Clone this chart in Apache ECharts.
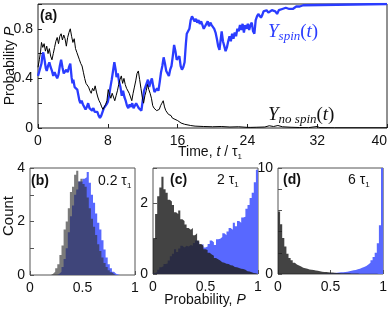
<!DOCTYPE html>
<html><head><meta charset="utf-8">
<script src="https://cdn.jsdelivr.net/npm/echarts@6/dist/echarts.min.js"></script>
<style>html,body{margin:0;padding:0;background:#fff}#c{width:390px;height:311px}</style>
</head><body><div id="c"></div><script>
// ---- panel (a): trajectories [time t/tau1, probability P]
const spinPath = [[0,0.42],[0.2,0.47],[0.4,0.52],[0.5,0.58],[0.6,0.61],[0.75,0.55],[0.9,0.48],[1.0,0.46],[1.15,0.5],[1.3,0.53],[1.45,0.49],[1.6,0.46],[1.75,0.42],[1.9,0.45],[2.05,0.44],[2.2,0.4],[2.35,0.43],[2.5,0.5],[2.65,0.55],[2.8,0.49],[2.95,0.44],[3.1,0.43],[3.25,0.47],[3.4,0.45],[3.55,0.49],[3.7,0.52],[3.85,0.41],[3.95,0.36],[4.05,0.39],[4.2,0.33],[4.35,0.34],[4.5,0.31],[4.6,0.3],[4.75,0.22],[4.85,0.2],[5.0,0.22],[5.15,0.19],[5.3,0.18],[5.45,0.15],[5.6,0.17],[5.75,0.2],[5.9,0.16],[6.05,0.15],[6.2,0.14],[6.35,0.16],[6.5,0.13],[6.65,0.12],[6.8,0.13],[6.95,0.1],[7.1,0.08],[7.25,0.1],[7.4,0.13],[7.55,0.16],[7.7,0.17],[7.85,0.19],[8.0,0.21],[8.15,0.26],[8.3,0.33],[8.45,0.39],[8.6,0.46],[8.75,0.53],[8.9,0.47],[9.0,0.41],[9.15,0.44],[9.3,0.37],[9.45,0.33],[9.6,0.26],[9.75,0.3],[9.9,0.25],[10.05,0.22],[10.2,0.18],[10.35,0.16],[10.5,0.19],[10.65,0.17],[10.8,0.2],[10.95,0.16],[11.1,0.17],[11.25,0.2],[11.4,0.18],[11.55,0.16],[11.7,0.15],[11.85,0.14],[12.0,0.22],[12.15,0.3],[12.3,0.33],[12.45,0.36],[12.6,0.39],[12.75,0.33],[12.9,0.37],[13.05,0.4],[13.2,0.34],[13.35,0.29],[13.5,0.3],[13.65,0.32],[13.8,0.3],[13.95,0.37],[14.1,0.45],[14.25,0.5],[14.4,0.57],[14.55,0.52],[14.7,0.46],[14.85,0.44],[15.0,0.42],[15.15,0.47],[15.3,0.5],[15.45,0.58],[15.6,0.67],[15.75,0.62],[15.9,0.55],[16.05,0.56],[16.2,0.58],[16.35,0.5],[16.5,0.47],[16.65,0.49],[16.8,0.53],[16.95,0.68],[17.05,0.76],[17.2,0.78],[17.35,0.8],[17.5,0.87],[17.65,0.9],[17.8,0.91],[17.95,0.86],[18.1,0.88],[18.25,0.85],[18.4,0.87],[18.55,0.84],[18.7,0.86],[18.85,0.83],[19.0,0.8],[19.15,0.82],[19.3,0.84],[19.45,0.86],[19.6,0.82],[19.75,0.85],[19.9,0.83],[20.05,0.82],[20.2,0.8],[20.35,0.77],[20.5,0.72],[20.65,0.66],[20.8,0.63],[20.95,0.72],[21.05,0.78],[21.2,0.7],[21.35,0.66],[21.5,0.62],[21.65,0.65],[21.8,0.7],[21.95,0.74],[22.1,0.7],[22.25,0.76],[22.4,0.72],[22.55,0.77],[22.7,0.74],[22.85,0.8],[23.0,0.78],[23.15,0.83],[23.3,0.79],[23.45,0.84],[23.6,0.77],[23.75,0.83],[23.9,0.8],[24.05,0.84],[24.2,0.79],[24.35,0.83],[24.5,0.85],[24.65,0.78],[24.8,0.76],[24.95,0.87],[25.1,0.9],[25.25,0.92],[25.4,0.93],[25.55,0.89],[25.7,0.91],[25.85,0.94],[26.0,0.93],[26.2,0.95],[26.4,0.93],[26.6,0.94],[26.8,0.95],[27.0,0.96],[27.2,0.94],[27.4,0.92],[27.6,0.95],[27.8,0.94],[28.0,0.96],[28.2,0.95],[28.4,0.97],[28.6,0.97],[28.8,0.96],[29.0,0.97],[29.2,0.96],[29.4,0.97],[29.6,0.98],[29.8,0.97],[30.0,0.98],[30.2,0.98],[30.4,0.99],[30.6,1.0],[40,1.0]];
const noSpinPath = [[0,0.49],[0.15,0.55],[0.3,0.62],[0.4,0.69],[0.55,0.65],[0.7,0.68],[0.85,0.62],[1.0,0.66],[1.15,0.6],[1.3,0.64],[1.45,0.58],[1.6,0.55],[1.75,0.6],[1.9,0.65],[2.05,0.7],[2.2,0.73],[2.35,0.68],[2.5,0.74],[2.65,0.76],[2.8,0.71],[2.95,0.75],[3.1,0.72],[3.25,0.66],[3.4,0.73],[3.55,0.77],[3.7,0.8],[3.85,0.74],[4.0,0.69],[4.15,0.72],[4.3,0.64],[4.45,0.61],[4.6,0.6],[4.75,0.55],[4.9,0.52],[5.05,0.5],[5.2,0.45],[5.35,0.4],[5.5,0.36],[5.65,0.37],[5.8,0.33],[5.95,0.3],[6.1,0.28],[6.25,0.32],[6.4,0.3],[6.55,0.34],[6.7,0.29],[6.85,0.25],[7.0,0.22],[7.15,0.2],[7.3,0.17],[7.45,0.15],[7.6,0.17],[7.75,0.19],[7.9,0.22],[8.05,0.31],[8.2,0.27],[8.35,0.24],[8.5,0.28],[8.65,0.25],[8.8,0.22],[8.95,0.26],[9.1,0.3],[9.25,0.35],[9.4,0.39],[9.55,0.42],[9.7,0.36],[9.85,0.4],[10.0,0.35],[10.15,0.32],[10.3,0.33],[10.45,0.28],[10.6,0.25],[10.75,0.22],[10.9,0.28],[11.05,0.33],[11.2,0.38],[11.35,0.44],[11.5,0.46],[11.65,0.39],[11.8,0.32],[11.95,0.25],[12.1,0.2],[12.25,0.26],[12.4,0.3],[12.55,0.35],[12.7,0.31],[12.85,0.28],[13.0,0.24],[13.15,0.18],[13.3,0.16],[13.45,0.15],[13.6,0.14],[13.75,0.13],[13.9,0.15],[14.05,0.18],[14.2,0.2],[14.35,0.22],[14.5,0.17],[14.65,0.14],[14.8,0.13],[14.95,0.11],[15.1,0.1],[15.25,0.1],[15.4,0.08],[15.55,0.09],[15.7,0.07],[15.85,0.07],[16.0,0.06],[16.2,0.05],[16.4,0.04],[16.6,0.03],[16.8,0.03],[17.0,0.025],[17.5,0.02],[18.0,0.015],[19.0,0.012],[20.0,0.01],[21.0,0.012],[22.0,0.008],[23.0,0.01],[24.0,0.005],[24.2,0.02],[24.4,0.005],[25,0.006],[26,0.008],[26.5,0.018],[27,0.012],[27.5,0.02],[28,0.01],[29,0.006],[30,0.004],[31,0.003],[32,0.012],[32.3,0.003],[34,0.002],[40,0.002]];
const timeAxis = {min: 0, max: 40, step: 8};
const probTickLabels = {'0': '0', '0.4': '0.4', '0.8': '0.8'};

// ---- histograms: 50 bins over P in [0,1], counts
const histB_spin   = [0,0,0,0,0,0,0,0,0,0,0,0,0,0.05,0.12,0.3,0.6,1.0,1.6,2.2,2.6,3.0,3.2,3.5,3.5,3.6,3.65,3.85,3.45,3.0,2.7,2.3,1.95,1.7,1.3,0.95,0.65,0.4,0.25,0.12,0.05,0.02,0,0,0,0,0,0,0,0];
const histB_noSpin = [0,0,0,0,0,0,0,0,0,0,0.05,0.12,0.25,0.4,0.75,1.1,1.7,2.0,2.5,3.1,3.3,3.75,3.9,3.5,3.6,3.4,3.3,2.9,2.5,2.1,1.8,1.5,1.15,0.9,0.65,0.45,0.3,0.18,0.1,0.04,0,0,0,0,0,0,0,0,0,0];
const histC_spin   = [0.02,0.06,0.12,0.19,0.22,0.28,0.3,0.38,0.5,0.57,0.7,0.62,0.72,0.8,0.75,0.8,0.78,0.82,0.8,0.88,0.95,0.9,0.82,0.85,0.75,0.78,0.85,0.95,0.9,0.82,0.98,1.0,1.05,1.15,1.1,1.2,1.3,1.25,1.45,1.35,1.5,1.45,1.6,1.62,1.85,1.95,2.15,2.3,2.6,2.95];
const histC_noSpin = [1.0,1.7,2.2,2.45,2.75,2.4,2.3,2.1,2.05,1.95,1.75,1.7,1.8,1.55,1.5,1.4,1.3,1.25,1.3,1.1,1.15,0.95,0.85,0.8,0.7,0.68,0.6,0.55,0.52,0.45,0.42,0.38,0.33,0.32,0.29,0.28,0.25,0.24,0.2,0.19,0.17,0.15,0.14,0.12,0.08,0.07,0.05,0.03,0.02,0.01];
const histD_spin   = [0.01,0.01,0.01,0.01,0.01,0.01,0.01,0.01,0.01,0.01,0.01,0.01,0.01,0.01,0.01,0.01,0.01,0.01,0.01,0.01,0.02,0.03,0.04,0.05,0.06,0.08,0.1,0.12,0.14,0.16,0.17,0.2,0.22,0.25,0.3,0.35,0.38,0.45,0.5,0.6,0.65,0.75,0.9,1.05,1.3,1.6,2.0,2.9,4.6,10];
const histD_noSpin = [5.9,4.7,3.4,2.6,1.9,1.5,1.3,1.05,0.9,0.8,0.7,0.6,0.55,0.5,0.42,0.4,0.38,0.32,0.3,0.25,0.22,0.2,0.2,0.17,0.15,0.13,0.12,0.1,0.1,0.08,0.08,0.07,0.06,0.06,0.05,0.05,0.04,0.04,0.03,0.03,0.03,0.03,0.02,0.02,0.02,0.02,0.02,0.01,0.01,0.01];
const countAxes = [{max: 4, step: 1, labels: ['0','2','4']}, {max: 3, step: 1, labels: ['0','2']}, {max: 10, step: 2, labels: ['0','10']}];
const probLabels = {'0': '0', '0.5': '0.5', '1': '1'};

function stepData(vals) {
  const w = 1 / vals.length;
  const d = vals.map((v, i) => [i * w, v]);
  d.push([1, vals[vals.length - 1]]);
  return d;
}

const FONT = 'Liberation Sans, Arial, sans-serif';
const SERIF = 'Liberation Serif, Times New Roman, serif';
const chart = echarts.init(document.getElementById('c'), null, {renderer: 'canvas'});

const grids = [
  {left: 38, top: 4, width: 349, height: 124, show: true, borderColor: '#222', borderWidth: 1},
  {left: 30, top: 168, width: 105, height: 107, show: true, borderColor: '#555', borderWidth: 1},
  {left: 153, top: 168, width: 105, height: 106, show: true, borderColor: '#555', borderWidth: 1},
  {left: 278, top: 168, width: 108, height: 106, show: true, borderColor: '#555', borderWidth: 1}
];
const labelStyle = {fontFamily: FONT, fontSize: 14, color: '#111'};
function tickCfg(c){ return {show: true, inside: true, length: 4, lineStyle: {color: c}}; }

const xAxes = [
  {gridIndex: 0, type: 'value', min: timeAxis.min, max: timeAxis.max, interval: timeAxis.step,
   axisLine: {show: false}, axisTick: tickCfg('#222'), splitLine: {show: false},
   axisLabel: Object.assign({margin: 6, alignMaxLabel: 'right'}, labelStyle)}
];
const yAxes = [
  {gridIndex: 0, type: 'value', min: 0, max: 1, interval: 0.2,
   axisLine: {show: false}, axisTick: tickCfg('#222'), splitLine: {show: false},
   axisLabel: Object.assign({margin: 5, formatter: v => probTickLabels[String(+v.toFixed(2))] || ''}, labelStyle)}
];
for (let k = 1; k <= 3; k++) {
  const ca = countAxes[k - 1];
  xAxes.push({gridIndex: k, type: 'value', min: 0, max: 1, interval: 0.5,
    axisLine: {show: false}, axisTick: tickCfg('#555'), splitLine: {show: false},
    axisLabel: Object.assign({margin: 6, formatter: v => probLabels[String(+v.toFixed(2))] || ''}, labelStyle)});
  yAxes.push({gridIndex: k, type: 'value', min: 0, max: ca.max, interval: ca.step,
    axisLine: {show: false}, axisTick: tickCfg('#555'), splitLine: {show: false},
    axisLabel: Object.assign({margin: 5, formatter: v => ca.labels.indexOf(String(v)) >= 0 ? String(v) : ''}, labelStyle)});
}

const series = [
  {type: 'line', xAxisIndex: 0, yAxisIndex: 0, data: spinPath, showSymbol: false, symbol: 'none',
   lineStyle: {color: '#2a3cff', width: 2.3}, z: 2},
  {type: 'line', xAxisIndex: 0, yAxisIndex: 0, data: noSpinPath, showSymbol: false, symbol: 'none',
   lineStyle: {color: '#000', width: 1}, z: 3}
];
const hists = [[histB_spin, histB_noSpin, '#333', 0.65], [histC_spin, histC_noSpin, '#222', 0.85], [histD_spin, histD_noSpin, '#222', 0.85]];
hists.forEach((h, i) => {
  const k = i + 1;
  series.push({type: 'line', xAxisIndex: k, yAxisIndex: k, step: 'end', data: stepData(h[0]),
    showSymbol: false, symbol: 'none', lineStyle: {width: 0}, areaStyle: {color: '#5868ff', opacity: 1}, z: 2});
  series.push({type: 'line', xAxisIndex: k, yAxisIndex: k, step: 'end', data: stepData(h[1]),
    showSymbol: false, symbol: 'none', lineStyle: {width: 0}, areaStyle: {color: h[2], opacity: h[3]}, z: 3});
});

function txt(x, y, text, style, extra) {
  return Object.assign({type: 'text', x: x, y: y, silent: true, z: 10,
    style: Object.assign({text: text, fontFamily: FONT, fontSize: 14, fill: '#111', textAlign: 'left', textVerticalAlign: 'middle'}, style)}, extra || {});
}
const subRich = {
  i: {fontFamily: FONT, fontStyle: 'italic', fontSize: 14},
  s: {fontFamily: FONT, fontSize: 8, verticalAlign: 'bottom', lineHeight: 8, padding: [0, 0, 0, 0]},
  n: {fontFamily: FONT, fontSize: 14, lineHeight: 18}
};
const serifRich = {
  Y: {fontFamily: SERIF, fontStyle: 'italic', fontSize: 19, lineHeight: 22},
  sub: {fontFamily: SERIF, fontStyle: 'italic', fontSize: 13, lineHeight: 12, verticalAlign: 'bottom'},
  p: {fontFamily: SERIF, fontSize: 19, lineHeight: 22},
  t: {fontFamily: SERIF, fontStyle: 'italic', fontSize: 19, lineHeight: 22}
};

const graphic = [
  txt(40, 16, '(a)', {fontWeight: 'bold', fontSize: 14}),
  txt(31, 181, '(b)', {fontWeight: 'bold', fontSize: 14}),
  txt(170, 180, '(c)', {fontWeight: 'bold', fontSize: 14}),
  txt(283, 180, '(d)', {fontWeight: 'bold', fontSize: 14}),
  txt(98, 181, '{n|0.2 τ}{s|1}', {rich: subRich}),
  txt(217, 180, '{n|2 τ}{s|1}', {rich: subRich}),
  txt(348, 180, '{n|6 τ}{s|1}', {rich: subRich}),
  txt(10, 66, '{n|Probability }{i|P}', {rich: subRich, textAlign: 'center', fontSize: 15}, {rotation: Math.PI / 2}),
  txt(9, 216, 'Count', {textAlign: 'center', fontSize: 15}, {rotation: Math.PI / 2}),
  txt(210, 152, '{n|Time, }{i|t}{n| / τ}{s|1}', {rich: subRich, textAlign: 'center'}),
  txt(205, 300, '{n|Probability, }{i|P}', {rich: subRich, textAlign: 'center'}),
  txt(268, 32, '{Y|Y}{sub|spin}{p|(}{t|t}{p|)}', {rich: serifRich, fill: '#2a3cff'}),
  txt(268, 115, '{Y|Y}{sub|no spin}{p|(}{t|t}{p|)}', {rich: serifRich, fill: '#111'})
];

chart.setOption({
  animation: false,
  grid: grids, xAxis: xAxes, yAxis: yAxes, series: series, graphic: graphic
});
</script></body></html>
